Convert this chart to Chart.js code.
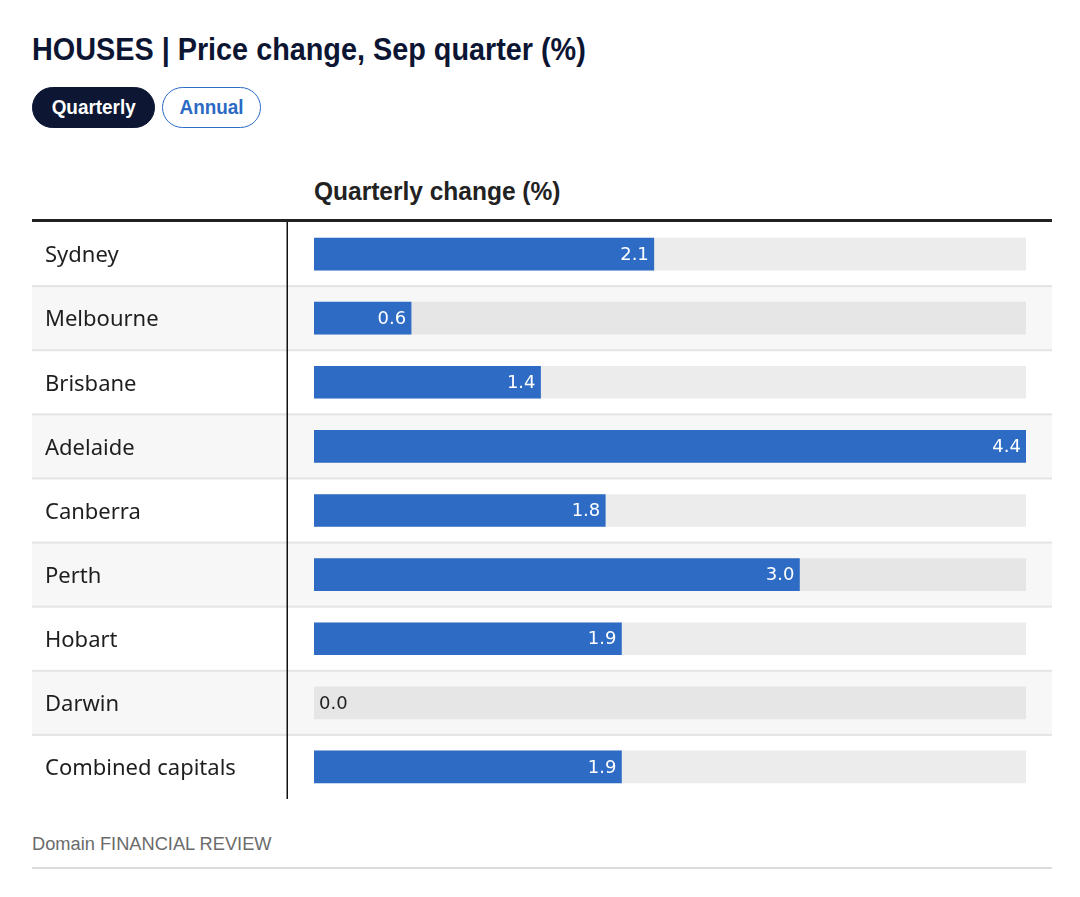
<!DOCTYPE html>
<html>
<head>
<meta charset="utf-8">
<script src="https://cdn.jsdelivr.net/npm/chart.js@4/dist/chart.umd.min.js"></script>
<style>
    body { margin: 0; background: #fff; width: 1080px; height: 897px; position: relative; font-family: "Noto Sans", sans-serif; }
    h1 { position: absolute; left: 32px; top: 31px; margin: 0; font: bold 32px "Liberation Sans", sans-serif; color: #0c1532; transform: scaleX(0.9); transform-origin: left top; white-space: nowrap; }
    .btn { position: absolute; top: 87px; height: 41px; box-sizing: border-box; border-radius: 21px; line-height: 40px; text-align: center; }
    .btn span { display: inline-block; font: bold 21px "Liberation Sans", sans-serif; transform: scaleX(0.9); }
    .btn.on { left: 32px; width: 123px; background: #0d1733; color: #fff; border: 1px solid #0d1733; }
    .btn.off { left: 162px; width: 99px; background: #fff; color: #2d6ac4; border: 1.5px solid #2d6ac4; }
    .head { position: absolute; left: 314px; top: 177px; font: bold 25px "Liberation Sans", sans-serif; color: #222; transform: scaleX(0.98); transform-origin: left top; white-space: nowrap; }
    .rule { position: absolute; left: 32px; width: 1020px; top: 219px; height: 3px; background: #222; }
    #wrap { position: absolute; left: 32px; top: 222px; width: 1020px; height: 577px; }
    .src { position: absolute; left: 32px; top: 833px; font: 19px "Liberation Sans", sans-serif; color: #6b6b6b; transform: scaleX(0.96); transform-origin: left top; white-space: nowrap; }
    .foot { position: absolute; left: 32px; width: 1020px; top: 867px; height: 2px; background: #dcdcdc; }
</style>
</head>
<body>
<h1>HOUSES | Price change, Sep quarter (%)</h1>
<div class="btn on"><span>Quarterly</span></div>
<div class="btn off"><span>Annual</span></div>
<div class="head">Quarterly change (%)</div>
<div class="rule"></div>
<div id="wrap"><canvas id="chart"></canvas></div>
<div class="src">Domain FINANCIAL REVIEW</div>
<div class="foot"></div>
<script>
// Quarterly house price change by capital city
const cities = ['Sydney', 'Melbourne', 'Brisbane', 'Adelaide', 'Canberra', 'Perth', 'Hobart', 'Darwin', 'Combined capitals'];
const quarterlyChange = [2.1, 0.6, 1.4, 4.4, 1.8, 3.0, 1.9, 0.0, 1.9];
const scaleMax = 4.4;

const barBlue = '#2d6bc4';

// alternating row backgrounds, separators and the vertical divider
// (drawn before the axes so the city labels stay on top)
const rowsPlugin = {
    id: 'rows',
    beforeDraw(chart) {
        const ctx = chart.ctx;
        const y = chart.scales.y;
        const w = chart.width;
        const rowH = (y.bottom - y.top) / cities.length;
        ctx.save();
        cities.forEach((c, i) => {
            const mid = y.getPixelForValue(i);
            const top = mid - rowH / 2;
            if (i % 2 === 1) {
                ctx.fillStyle = '#f7f7f7';
                ctx.fillRect(0, top, w, rowH);
            }
            if (i > 0) {
                ctx.fillStyle = '#e4e4e4';
                ctx.fillRect(0, top - 1, w, 2);
            }
        });
        ctx.fillStyle = '#111';
        ctx.fillRect(254.5, 0, 1.5, chart.height);
        ctx.restore();
    }
};

// value labels at the end of each bar
const valuePlugin = {
    id: 'values',
    afterDatasetsDraw(chart) {
        const ctx = chart.ctx;
        const meta = chart.getDatasetMeta(1);
        ctx.save();
        ctx.font = '18px "DejaVu Sans"';
        ctx.textBaseline = 'middle';
        meta.data.forEach((bar, i) => {
            const v = quarterlyChange[i];
            const txt = v.toFixed(1);
            if (v > 0.3) {
                ctx.fillStyle = '#fff';
                ctx.textAlign = 'right';
                ctx.fillText(txt, bar.x - 5, bar.y + 1);
            } else {
                ctx.fillStyle = '#222';
                ctx.textAlign = 'left';
                ctx.fillText(txt, bar.base + 5, bar.y + 1);
            }
        });
        ctx.restore();
    }
};

new Chart(document.getElementById('chart'), {
    type: 'bar',
    data: {
        labels: cities,
        datasets: [{
            data: cities.map(() => scaleMax),
            backgroundColor: cities.map((c, i) => i % 2 === 1 ? '#e6e6e6' : '#ececec'),
            barThickness: 32,
            grouped: false,
            order: 2
        }, {
            data: quarterlyChange,
            backgroundColor: quarterlyChange.map(v => v === 0 ? 'rgba(0,0,0,0)' : barBlue),
            barThickness: 32,
            grouped: false,
            order: 1
        }]
    },
    options: {
        indexAxis: 'y',
        responsive: true,
        maintainAspectRatio: false,
        animation: false,
        layout: { padding: { left: 13, right: 26, top: 0, bottom: 0 } },
        plugins: {
            legend: { display: false },
            tooltip: { enabled: false }
        },
        scales: {
            x: {
                display: false,
                min: 0,
                max: scaleMax
            },
            y: {
                grid: { display: false },
                border: { display: false },
                afterFit(scale) {
                    scale.width = 269;
                    scale.paddingTop = 0;
                    scale.paddingBottom = 0;
                },
                ticks: {
                    autoSkip: false,
                    crossAlign: 'far',
                    labelOffset: 2,
                    color: '#1e1e1e',
                    font: { family: 'Noto Sans', size: 22 }
                }
            }
        }
    },
    plugins: [rowsPlugin, valuePlugin]
});
</script>
</body>
</html>
